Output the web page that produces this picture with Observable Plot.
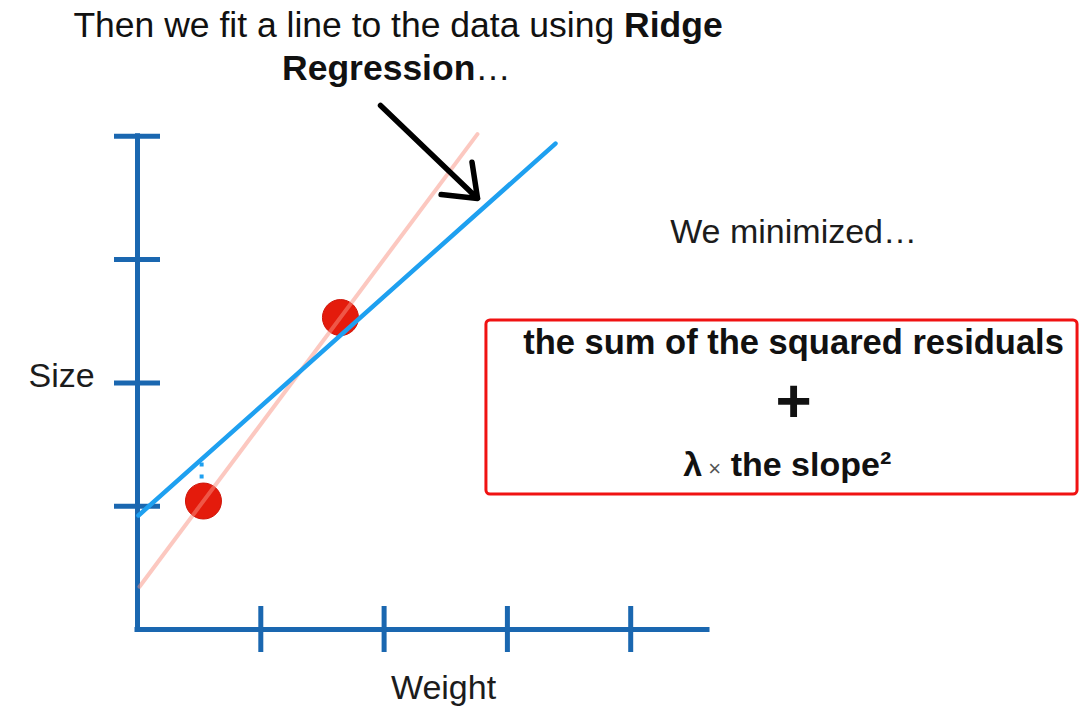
<!DOCTYPE html>
<html><head><meta charset="utf-8">
<script src="https://cdn.jsdelivr.net/npm/d3@7"></script>
<script src="https://cdn.jsdelivr.net/npm/@observablehq/plot@0.6"></script>
<style>
html,body{margin:0;padding:0;background:#fff;}
#chart{width:1080px;height:709px;}
</style></head><body><div id="chart"></div>
<script>
// ---- data (in Weight / Size units, one tick = 1 unit) ----
const weight = [0.535, 1.646];
const size = [1.042, 2.530];
const xTicks = [1, 2, 3, 4];
const yTicks = [1, 2, 3, 4];
const leastSquaresW = [0.016, 2.757];
const leastSquaresS = [0.347, 4.018];
const ridgeW = [0.008, 3.390];
const ridgeS = [0.925, 3.941];
const residualW = [0.52];
const residualFrom = [1.35];
const residualTo = [1.175];
const axisMaxW = [4.623];
const axisMaxS = [4.0];

// annotations
const plainLabels = ["Size", "Weight", "We minimized…"];
const plainLabelX = [-0.616, 2.482, 5.321];
const plainLabelY = [2.052, -0.478, 3.220];
const richLines = [
  [["Then we fit a line to the data using ", false], ["Ridge", true]],
  [["Regression", true], ["…", false]],
  [["the sum of the squared residuals", true]],
  [["+", true, 62]],
  [["λ", true], [" ×", false, 22, "#555"], [" the slope", true], ["²", true]]
];
const richX = [2.113, 2.10, 5.321, 5.321, 5.27];
const richY = [4.899, 4.55, 2.320, 1.77, 1.330];
const richSize = [35.5, 35.5, 34.5, 34.5, 34];
const arrowFrom = [1.971, 4.250];
const arrowTo = [2.758, 3.496];
const boxW = [2.830, 7.624];
const boxS = [1.095, 2.506];

const U = 123.3, X0 = 137, Y0 = 629, W = 1080, H = 709;
const AX = "#1a67b0", RIDGE = "#1ea0f0", RED = "#e41b0c";
const FONT = "'Helvetica Neue', Helvetica, 'Liberation Sans', Arial, sans-serif";
const tick = 23 / U;

const pts = weight.map((w, i) => ({w, s: size[i]}));
const ls = leastSquaresW.map((w, i) => ({w, s: leastSquaresS[i]}));
const rg = ridgeW.map((w, i) => ({w, s: ridgeS[i]}));
const richText = richLines.map(parts => parts.map(p => p[0]).join(""));

const chart = Plot.plot({
  width: W, height: H, margin: 0,
  x: {domain: [-X0 / U, (W - X0) / U], axis: null},
  y: {domain: [-(H - Y0) / U, Y0 / U], axis: null},
  style: {fontFamily: FONT, background: "#fff", overflow: "visible"},
  marks: [
    // axes
    Plot.ruleX([0], {y1: 0, y2: axisMaxS[0], stroke: AX, strokeWidth: 5, strokeLinecap: "square"}),
    Plot.ruleY([0], {x1: 0, x2: axisMaxW[0], stroke: AX, strokeWidth: 5, strokeLinecap: "square"}),
    Plot.ruleX(xTicks, {x: d => d, y1: -tick, y2: tick, stroke: AX, strokeWidth: 5}),
    Plot.ruleY(yTicks, {y: d => d, x1: -tick, x2: tick, stroke: AX, strokeWidth: 5}),
    // residual
    Plot.ruleX(residualW, {x: d => d, y1: residualFrom[0], y2: residualTo[0], stroke: RIDGE, strokeWidth: 4, strokeDasharray: "4,8"}),
    // data points
    Plot.dot(pts, {x: "w", y: "s", r: 18, fill: RED, stroke: "#cf1509", strokeWidth: 1}),
    // least squares line (faded)
    Plot.line(ls, {x: "w", y: "s", stroke: "#f99181", strokeOpacity: 0.5, strokeWidth: 4}),
    // ridge line
    Plot.line(rg, {x: "w", y: "s", stroke: RIDGE, strokeWidth: 4.5}),
    // arrow
    Plot.arrow([0], {x1: () => arrowFrom[0], y1: () => arrowFrom[1], x2: () => arrowTo[0], y2: () => arrowTo[1],
      stroke: "#000", strokeWidth: 5.5, headLength: 10, headAngle: 75}),
    // box
    Plot.rect([0], {x1: () => boxW[0], x2: () => boxW[1], y1: () => boxS[0], y2: () => boxS[1],
      fill: "none", stroke: "#f01212", strokeWidth: 3, rx: 4}),
    // plain labels
    Plot.text(plainLabels, {x: (d, i) => plainLabelX[i], y: (d, i) => plainLabelY[i], text: d => d,
      fontSize: 34, fill: "#1c1c1c"}),
    // rich labels
    Plot.text(richText, {x: (d, i) => richX[i], y: (d, i) => richY[i], text: d => d,
      fontSize: 34, fill: "#111"})
  ]
});

d3.select(chart).selectAll("text").each(function() {
  const el = d3.select(this);
  const i = richText.indexOf(el.text());
  if (i < 0) return;
  const parts = richLines[i];
  el.text(null).attr("font-size", richSize[i]);
  parts.forEach(p => {
    const t = el.append("tspan").attr("font-weight", p[1] ? "bold" : "normal").text(p[0]);
    if (p[2]) t.attr("font-size", p[2]);
    if (p[3]) t.attr("fill", p[3]);
  });
});

document.getElementById("chart").appendChild(chart);
</script>
</body></html>
